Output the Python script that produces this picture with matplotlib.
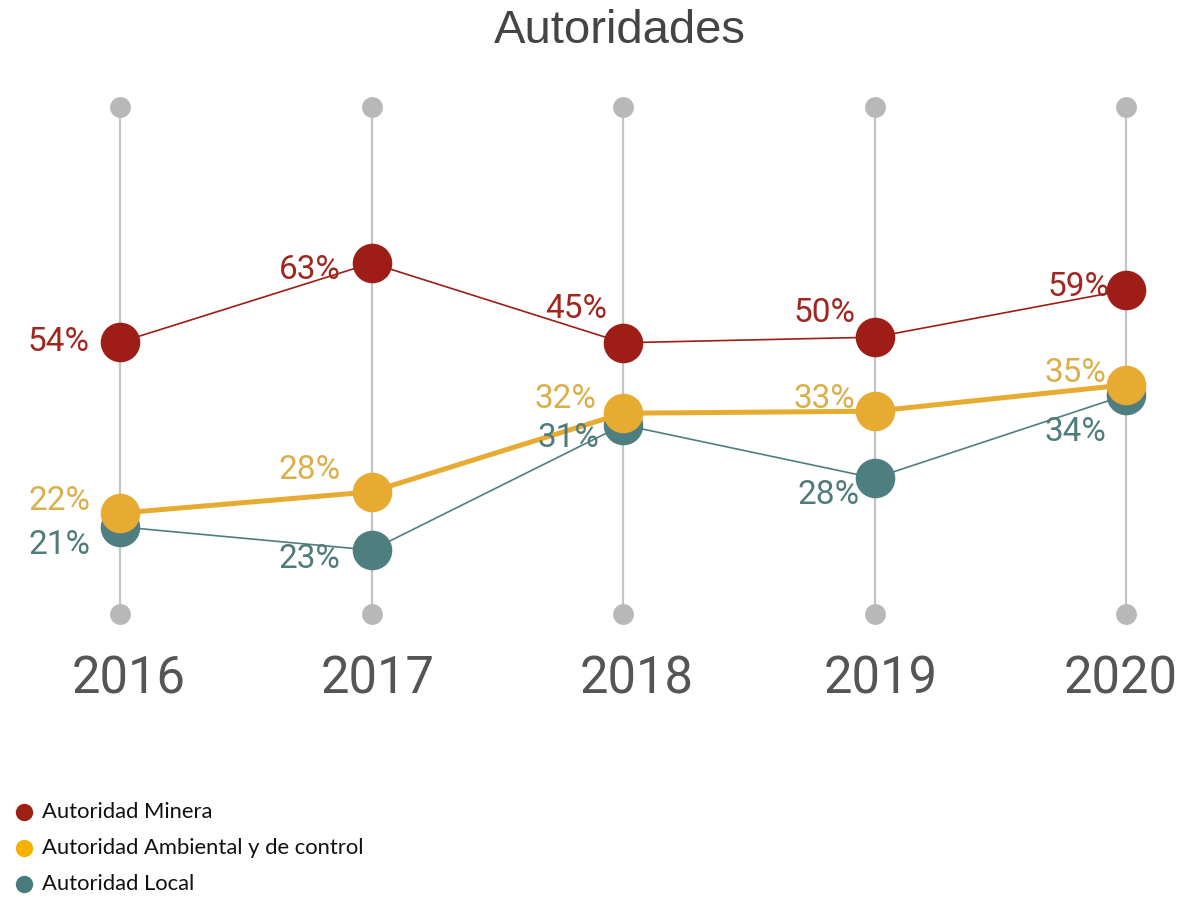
import numpy as np
import matplotlib.pyplot as plt

# data
years = ["2016", "2017", "2018", "2019", "2020"]
series = ["Autoridad Minera", "Autoridad Ambiental y de control", "Autoridad Local"]

# percentages written next to each point
minera_pct = [54, 63, 45, 50, 59]
ambiental_pct = [22, 28, 32, 33, 35]
local_pct = [21, 23, 31, 28, 34]

# height of each point on the chart (0 = bottom dot, 100 = top dot)
minera_lvl = [53.6, 69.2, 53.5, 54.6, 63.9]
ambiental_lvl = [19.9, 24.1, 39.6, 40.0, 45.2]
local_lvl = [17.2, 12.6, 37.3, 26.8, 43.2]

# label placement (pixels: right edge offset from point, vertical offset downwards)
minera_off = [(-30, 0), (-31, 7), (-16, -34), (-19, -24), (-16, -3)]
ambiental_off = [(-30, -12), (-31, -22), (-27, -14), (-19, -12), (-20, -12)]
local_off = [(-30, 18), (-31, 9), (-24, 13), (-15, 17), (-20, 37)]
year_dx = [9, 6, 14, 6, -5]

W, H = 1182, 898
fig = plt.figure(figsize=(W / 100, H / 100), dpi=100)
ax = fig.add_axes([120 / W, (H - 614) / H, 1006 / W, 507 / H])
ax.set_xlim(0, 4)
ax.set_ylim(0, 100)
ax.axis("off")

x = np.arange(len(years))
PX = 0.72  # points per pixel at 100 dpi

# vertical guides with end dots
for i in x:
    ax.plot([i, i], [0, 100], color="#c4c4c4", lw=1.6, zorder=1, clip_on=False)
ax.plot(x, [100] * len(x), "o", ms=15, color="#b8b8b8", mec="none", zorder=2, clip_on=False)
ax.plot(x, [0] * len(x), "o", ms=15, color="#b8b8b8", mec="none", zorder=2, clip_on=False)

styles = [
    (minera_lvl, minera_pct, minera_off, "#9e1d17", "#a0261f", 1.2, 4),
    (local_lvl, local_pct, local_off, "#4e7e7f", "#4f7b7b", 1.2, 5),
    (ambiental_lvl, ambiental_pct, ambiental_off, "#e8ab32", "#dcae4a", 3.6, 6),
]
for lvl, pct, off, col, tcol, lw, z in styles:
    ax.plot(x, lvl, "-", color=col, lw=lw, zorder=z, clip_on=False)
    ax.plot(x, lvl, "o", ms=28.5, color=col, mec="none", zorder=z, clip_on=False)
    for i, (v, p, (dx, dy)) in enumerate(zip(lvl, pct, off)):
        ax.annotate(f"{p}%", (i, v), xytext=(dx * PX, -dy * PX), textcoords="offset points",
                    ha="right", va="center", fontsize=24, color=tcol,
                    family="Roboto", zorder=10)

# year labels
for i, yr in enumerate(years):
    ax.annotate(yr, (i, 0), xytext=(year_dx[i] * PX, -66 * PX), textcoords="offset points",
                ha="center", va="center", fontsize=36.5, color="#555555",
                family="Roboto")

fig.text(620 / W, 1 - 43 / H, "Autoridades", ha="center", va="baseline",
         fontsize=34, color="#444444", family="Liberation Sans")

# legend
lax = fig.add_axes([0, 0, 1, 1])
lax.set_xlim(0, W)
lax.set_ylim(H, 0)
lax.axis("off")
leg_cols = ["#9e1f14", "#f5b000", "#4a7b7c"]
for k, (name, c) in enumerate(zip(series, leg_cols)):
    yk = 812 + 36 * k
    lax.plot([24], [yk], "o", ms=12.5, color=c, mec="none")
    lax.text(42, yk, name, ha="left", va="center", fontsize=15.8, color="#111111", family="Lato")

fig.savefig("out.png", dpi=100)
